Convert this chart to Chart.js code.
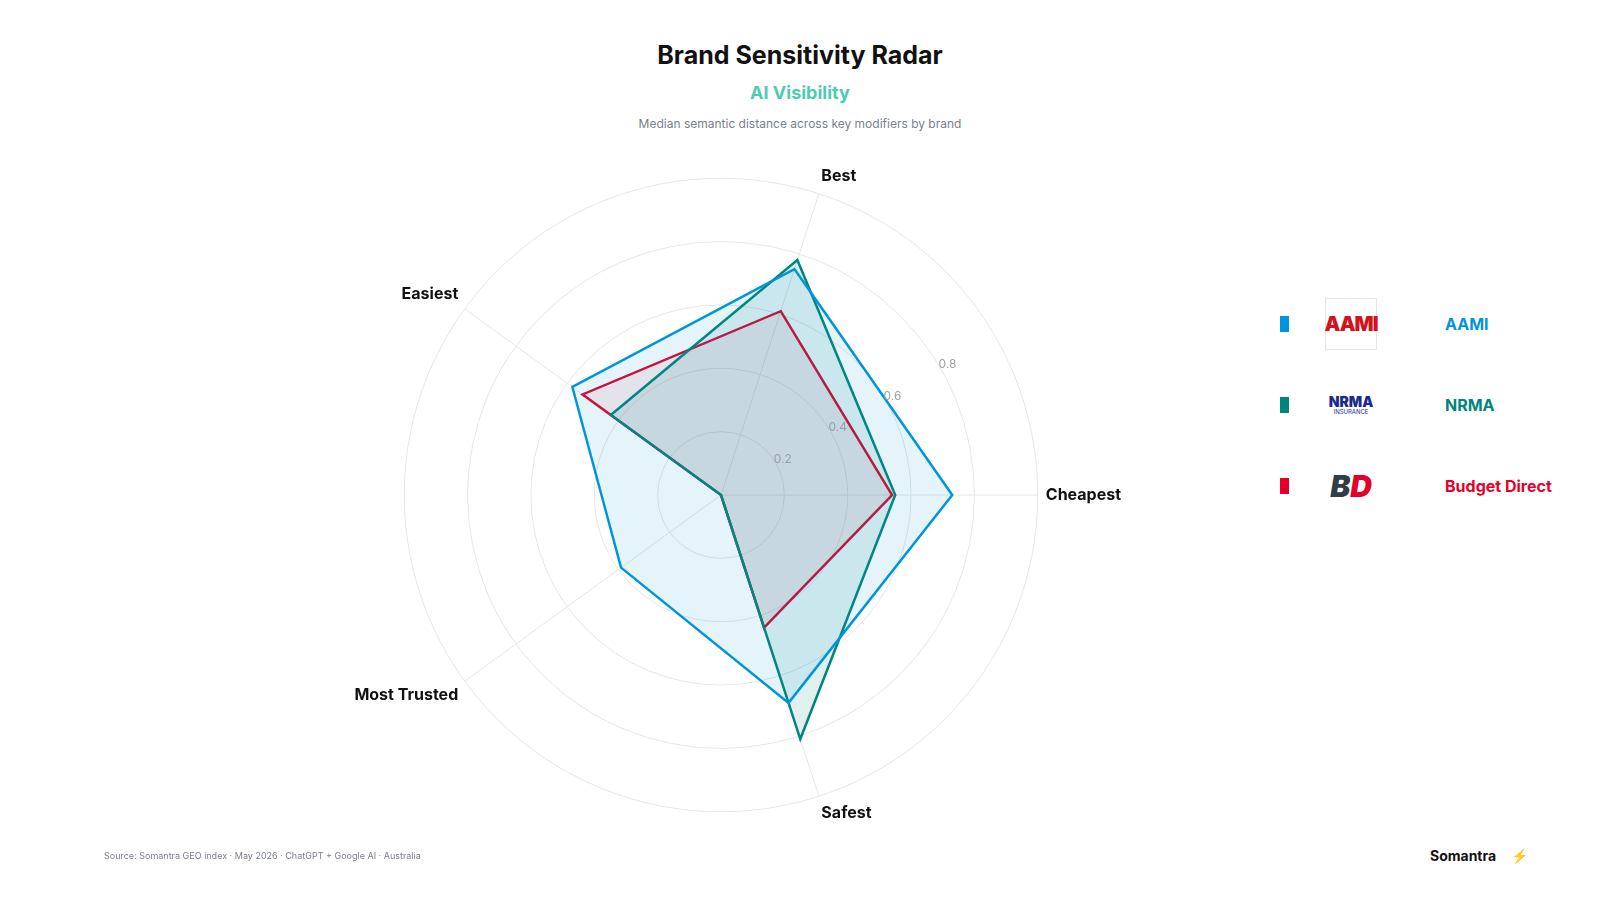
<!DOCTYPE html>
<html><head><meta charset="utf-8">
<script src="https://cdn.jsdelivr.net/npm/chart.js@4"></script>
<style>
body{margin:0;width:1600px;height:900px;background:#fff;font-family:Inter,"Noto Sans",sans-serif;position:relative;overflow:hidden}
.t{position:absolute;left:0;width:1600px;text-align:center}
#title{top:40px;font-size:25px;font-weight:700;color:#111}
#sub{top:82px;font-size:18px;font-weight:700;color:#4fcbb0}
#cap{top:116px;font-size:12px;color:#7a7f8c}
#wrap{position:absolute;left:342px;top:120px;width:800px;height:752px}
.lg{position:absolute;left:1280px;height:52px;display:flex;align-items:center}
.sw{width:9px;height:16px;margin-right:36px}
.logo{width:52px;height:52px;display:flex;align-items:center;justify-content:center;font-weight:900;margin-right:68px}
.nm{font-size:16px;font-weight:700}
#src{position:absolute;left:104px;top:850px;font-size:9px;color:#7a7f8c}
#brand{position:absolute;left:1430px;top:847px;font-size:14px;font-weight:700;color:#111}
</style></head><body>
<div class="t" id="title">Brand Sensitivity Radar</div>
<div class="t" id="sub">AI Visibility</div>
<div class="t" id="cap">Median semantic distance across key modifiers by brand</div>
<div id="wrap"><canvas id="c"></canvas></div>
<div class="lg" style="top:298px"><div class="sw" style="background:#0095da"></div><div class="logo" style="border:1px solid #e5e5e5;box-sizing:border-box;color:#d5121b;font-size:20px;letter-spacing:-1px">AAMI</div><div class="nm" style="color:#0095da">AAMI</div></div>
<div class="lg" style="top:379px"><div class="sw" style="background:#00857a"></div><div class="logo" style="flex-direction:column;color:#1b2a8c;font-size:14px;line-height:1.1">NRMA<span style="font-size:6px;font-weight:400">INSURANCE</span></div><div class="nm" style="color:#00857a">NRMA</div></div>
<div class="lg" style="top:460px"><div class="sw" style="background:#e4002b"></div><div class="logo" style="font-size:30px;font-style:italic"><span style="color:#2f3d49">B</span><span style="color:#e4002b">D</span></div><div class="nm" style="color:#e4002b">Budget Direct</div></div>
<div id="src">Source: Somantra GEO index · May 2026 · ChatGPT + Google AI · Australia</div>
<div id="brand">Somantra <span style="margin-left:12px">⚡</span></div>
<script>
const labels=["Best","Cheapest","Safest","Most Trusted","Easiest"];
const aami=[0.75,0.73,0.69,0.39,0.58];
const nrma=[0.78,0.55,0.81,0.0,0.43];
const budget=[0.61,0.54,0.44,0.0,0.54];
const tickVals=[0.2,0.4,0.6,0.8];
const tickPlugin={id:'tp',afterDatasetsDraw(ch){const s=ch.scales.r,ctx=ch.ctx;const a=60*Math.PI/180;ctx.save();ctx.font='12px Inter';ctx.fillStyle='#9aa0a6';ctx.textAlign='center';ctx.textBaseline='middle';
tickVals.forEach(v=>{const r=s.getDistanceFromCenterForValue(v)+8;ctx.fillText(v.toFixed(1),s.xCenter+r*Math.sin(a),s.yCenter-r*Math.cos(a));});ctx.restore();}};
new Chart(document.getElementById('c'),{type:'radar',
data:{labels,datasets:[
{label:'AAMI',data:aami,borderColor:'#0095da',backgroundColor:'rgba(0,149,218,0.10)',borderWidth:2.5,pointRadius:0,fill:true},
{label:'NRMA',data:nrma,borderColor:'#00857a',backgroundColor:'rgba(0,133,122,0.12)',borderWidth:2.5,pointRadius:0,fill:true},
{label:'Budget Direct',data:budget,borderColor:'#e4002b',backgroundColor:'rgba(228,0,43,0.08)',borderWidth:2.5,pointRadius:0,fill:true}]},
options:{responsive:true,maintainAspectRatio:false,animation:false,plugins:{legend:{display:false},tooltip:{enabled:false}},
elements:{line:{tension:0}},
scales:{r:{min:0,max:1,startAngle:18,ticks:{display:false,stepSize:0.2},
grid:{circular:true,color:'#e6e6e6'},angleLines:{color:'#e6e6e6'},
pointLabels:{font:{size:16,weight:'700',family:'Inter'},color:'#111',padding:8}}}},
plugins:[tickPlugin]});
</script>
</body></html>
